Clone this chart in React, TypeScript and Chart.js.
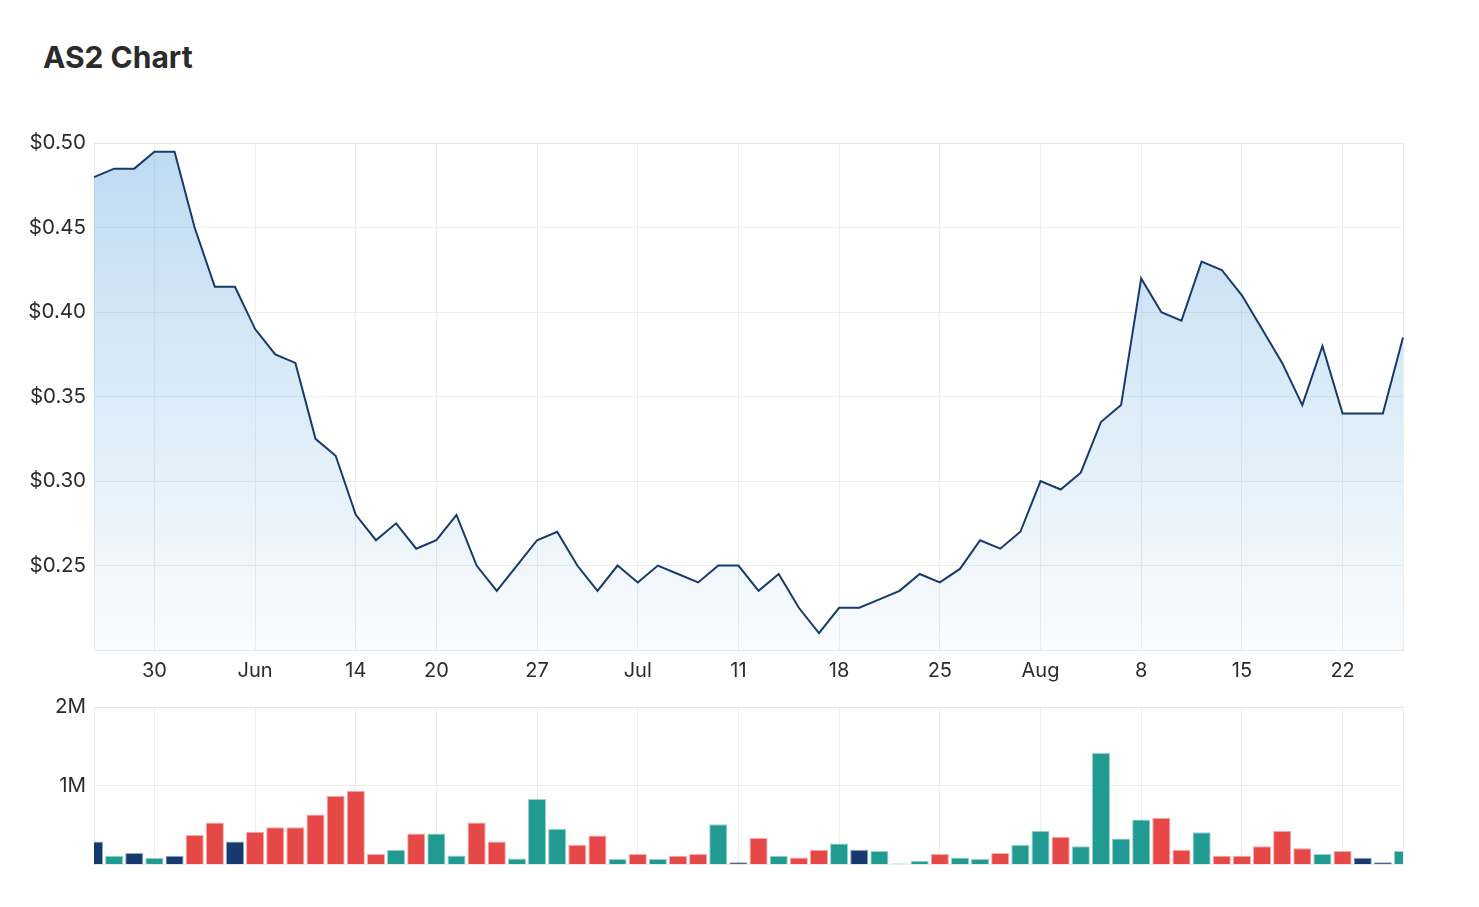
import React, { useEffect, useRef } from 'react';
import { Chart, registerables } from 'chart.js';

Chart.register(...registerables);

// Trading days (categories)
const dates = [
  '25 May', '26 May', '27 May', '30 May', '31 May',
  '1 Jun', '2 Jun', '3 Jun', '6 Jun', '7 Jun', '8 Jun', '9 Jun', '10 Jun', '14 Jun', '15 Jun', '16 Jun', '17 Jun',
  '20 Jun', '21 Jun', '22 Jun', '23 Jun', '24 Jun', '27 Jun', '28 Jun', '29 Jun', '30 Jun',
  '1 Jul', '4 Jul', '5 Jul', '6 Jul', '7 Jul', '8 Jul', '11 Jul', '12 Jul', '13 Jul', '14 Jul', '15 Jul',
  '18 Jul', '19 Jul', '20 Jul', '21 Jul', '22 Jul', '25 Jul', '26 Jul', '27 Jul', '28 Jul', '29 Jul',
  '1 Aug', '2 Aug', '3 Aug', '4 Aug', '5 Aug', '8 Aug', '9 Aug', '10 Aug', '11 Aug', '12 Aug',
  '15 Aug', '16 Aug', '17 Aug', '18 Aug', '19 Aug', '22 Aug', '23 Aug', '24 Aug', '25 Aug',
];

// Close price (AUD)
const prices = [
  0.48, 0.485, 0.485, 0.495, 0.495, 0.45, 0.415, 0.415, 0.39, 0.375, 0.37,
  0.325, 0.315, 0.28, 0.265, 0.275, 0.26, 0.265, 0.28, 0.25, 0.235,
  0.25, 0.265, 0.27, 0.25, 0.235, 0.25, 0.24, 0.25, 0.245, 0.24,
  0.25, 0.25, 0.235, 0.245, 0.225, 0.21, 0.225, 0.225, 0.23, 0.235,
  0.245, 0.24, 0.248, 0.265, 0.26, 0.27, 0.30, 0.295, 0.305, 0.335,
  0.345, 0.42, 0.40, 0.395, 0.43, 0.425, 0.41, 0.39, 0.37, 0.345,
  0.38, 0.34, 0.34, 0.34, 0.385,
];

// Volume (millions of shares)
const volumesM = [
  0.295, 0.114, 0.148, 0.089, 0.114, 0.376, 0.535, 0.295, 0.418, 0.477, 0.477,
  0.637, 0.877, 0.94, 0.135, 0.19, 0.396, 0.396, 0.118, 0.535, 0.295,
  0.08, 0.835, 0.456, 0.253, 0.371, 0.072, 0.135, 0.072, 0.114, 0.135,
  0.515, 0.03, 0.338, 0.114, 0.093, 0.19, 0.27, 0.19, 0.173, 0.016,
  0.05, 0.135, 0.093, 0.072, 0.148, 0.253, 0.43, 0.354, 0.236, 1.42,
  0.333, 0.574, 0.595, 0.19, 0.413, 0.114, 0.114, 0.236, 0.43, 0.21,
  0.135, 0.173, 0.089, 0.03, 0.173,
];

// X-axis tick labels
const tickDates = ['30 May', '6 Jun', '14 Jun', '20 Jun', '27 Jun', '4 Jul', '11 Jul', '18 Jul', '25 Jul', '1 Aug', '8 Aug', '15 Aug', '22 Aug'];
const tickLabels = ['30', 'Jun', '14', '20', '27', 'Jul', '11', '18', '25', 'Aug', '8', '15', '22'];

const UP = '#219b92';
const DOWN = '#e64848';
const FLAT = '#173a6e';
const LINE = '#173a6c';
const GRID = '#ededed';
const FONT = 'Inter, "Open Sans", sans-serif';
const TICK_COLOR = '#2b2b2b';

const volumeColors = volumesM.map((_, i) =>
  i === 0 || prices[i] === prices[i - 1] ? FLAT : prices[i] > prices[i - 1] ? UP : DOWN
);
const withAlpha = (hex: string, a: number) => {
  const r = parseInt(hex.slice(1, 3), 16);
  const g = parseInt(hex.slice(3, 5), 16);
  const b = parseInt(hex.slice(5, 7), 16);
  return `rgba(${r},${g},${b},${a})`;
};

const xGridColor = (ctx: any) => {
  const i = ctx.tick ? ctx.tick.value : ctx.index;
  if (i === dates.length - 1) return GRID;
  return tickDates.includes(dates[i]) ? GRID : 'rgba(0,0,0,0)';
};

export default function App() {
  const priceRef = useRef<HTMLCanvasElement>(null);
  const volRef = useRef<HTMLCanvasElement>(null);

  useEffect(() => {
    const priceChart = new Chart(priceRef.current!, {
      type: 'line',
      data: {
        labels: dates,
        datasets: [
          {
            data: prices,
            borderColor: LINE,
            borderWidth: 2,
            pointRadius: 0,
            tension: 0,
            fill: 'start',
            clip: 2,
            backgroundColor: (ctx: any) => {
              const area = ctx.chart.chartArea;
              if (!area) return 'rgba(91,164,222,0.2)';
              const g = ctx.chart.ctx.createLinearGradient(0, area.top, 0, area.bottom);
              g.addColorStop(0, 'rgba(91,164,222,0.4)');
              g.addColorStop(1, 'rgba(91,164,222,0.03)');
              return g;
            },
          },
        ],
      },
      options: {
        animation: false,
        responsive: false,
        layout: { padding: { top: 20, right: 76, left: 0, bottom: 0 } },
        plugins: { legend: { display: false }, tooltip: { enabled: false } },
        scales: {
          x: {
            type: 'category',
            offset: false,
            grid: { color: xGridColor, drawTicks: false, offset: false, lineWidth: 1 },
            border: { color: '#e6e6e6' },
            ticks: {
              autoSkip: false,
              maxRotation: 0,
              padding: 9,
              color: TICK_COLOR,
              font: { family: FONT, size: 20 },
              callback: (v: any) => {
                const k = tickDates.indexOf(dates[v as number]);
                return k >= 0 ? tickLabels[k] : '';
              },
            },
            afterFit: (s: any) => {
              s.height = 40;
            },
          },
          y: {
            min: 0.2,
            max: 0.5,
            grid: {
              color: (ctx: any) => (ctx.tick && Math.abs(ctx.tick.value - 0.5) < 1e-6 ? '#e3e3e3' : GRID),
              drawTicks: false,
            },
            border: { color: '#ececec' },
            ticks: {
              stepSize: 0.05,
              padding: 8,
              color: TICK_COLOR,
              font: { family: FONT, size: 20.5 },
              callback: (v: any) => (v < 0.201 ? '' : '$' + Number(v).toFixed(2)),
            },
            afterFit: (s: any) => {
              s.width = 94;
            },
          },
        },
      },
    });

    const volChart = new Chart(volRef.current!, {
      type: 'bar',
      data: {
        labels: dates,
        datasets: [
          {
            data: volumesM.map((v) => v * 1e6),
            backgroundColor: volumeColors,
            borderColor: volumeColors.map((c) => withAlpha(c, 0.45)),
            borderWidth: 1,
            barPercentage: 0.9,
            categoryPercentage: 1,
            clip: 0,
          },
        ],
      },
      options: {
        animation: false,
        responsive: false,
        layout: { padding: { top: 20, right: 76, left: 0, bottom: 20 } },
        plugins: { legend: { display: false }, tooltip: { enabled: false } },
        scales: {
          x: {
            type: 'category',
            offset: false,
            grid: { color: xGridColor, drawTicks: false, offset: false },
            border: { color: '#eeeeee' },
            ticks: { display: false, autoSkip: false },
            afterFit: (s: any) => {
              s.height = 0;
            },
          },
          y: {
            min: 0,
            max: 2e6,
            grid: {
              color: (ctx: any) => (ctx.tick && ctx.tick.value === 2e6 ? '#e3e3e3' : GRID),
              drawTicks: false,
            },
            border: { color: '#ececec' },
            ticks: {
              stepSize: 1e6,
              padding: 8,
              color: TICK_COLOR,
              font: { family: FONT, size: 20.5 },
              callback: (v: any) => (v === 0 ? '' : v / 1e6 + 'M'),
            },
            afterFit: (s: any) => {
              s.width = 94;
            },
          },
        },
      },
    });

    return () => {
      priceChart.destroy();
      volChart.destroy();
    };
  }, []);

  return (
    <div
      style={{
        position: 'absolute',
        left: 0,
        top: 0,
        width: 1479,
        height: 907,
        background: '#fff',
        overflow: 'hidden',
      }}
    >
      <div
        style={{
          position: 'absolute',
          left: 43,
          top: 42,
          fontFamily: FONT,
          fontWeight: 700,
          fontSize: 30,
          lineHeight: 1,
          color: '#2b2b2b',
          whiteSpace: 'nowrap',
        }}
      >
        AS2 Chart
      </div>
      <canvas
        ref={priceRef}
        width={1479}
        height={567}
        style={{ position: 'absolute', left: 0, top: 123, display: 'block' }}
      />
      <canvas
        ref={volRef}
        width={1479}
        height={198}
        style={{ position: 'absolute', left: 0, top: 687, display: 'block' }}
      />
    </div>
  );
}
